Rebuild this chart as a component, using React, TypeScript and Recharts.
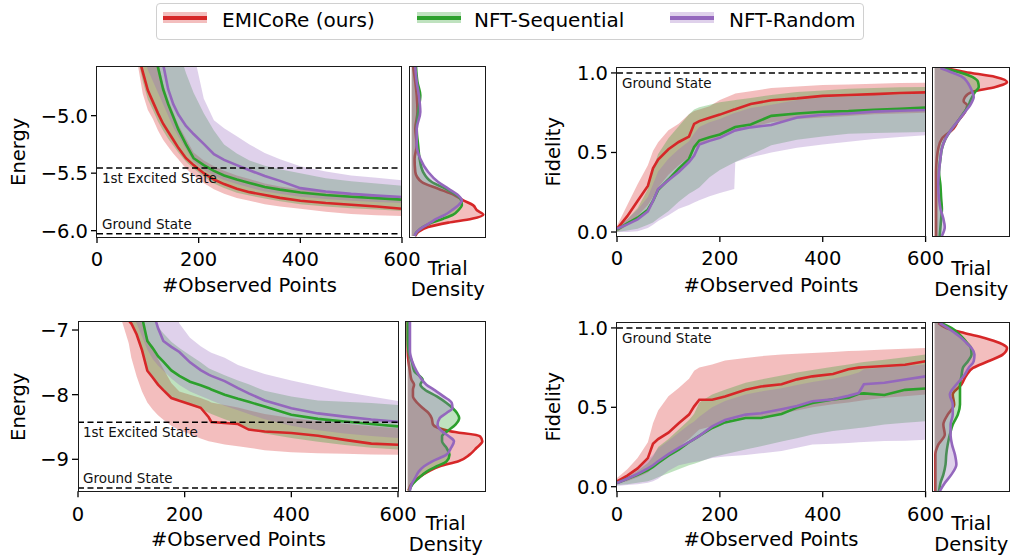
import React from 'react';
import { ComposedChart, Area, Line, XAxis, YAxis, ReferenceLine } from 'recharts';

const RED = '#d62728';
const GREEN = '#2ca02c';
const PURPLE = '#9467bd';
const FONT = '"DejaVu Sans", sans-serif';

const SERIES_NAMES = ['EMICoRe (ours)', 'NFT-Sequential', 'NFT-Random'];
const X_TICKS = [0, 200, 400, 600];
const E1_TICKS = [-6, -5.5, -5];
const E2_TICKS = [-9, -8, -7];
const F_TICKS = [0, 0.5, 1];

// ---------- Panel 1 (Energy, top-left) ----------
const P1_X = [0, 40, 80, 90, 100, 110, 120, 130, 140, 150, 160, 175, 190, 210, 230, 250, 275, 300, 330, 360, 400, 450, 500, 550, 600];
const P1_RED_MEAN = [-3.6, -4.0, -4.45, -4.62, -4.78, -4.88, -4.98, -5.07, -5.14, -5.21, -5.28, -5.37, -5.43, -5.5, -5.555, -5.595, -5.635, -5.665, -5.69, -5.715, -5.74, -5.76, -5.775, -5.79, -5.81];
const P1_RED_LO = [-3.8, -4.2, -4.55, -4.81, -4.95, -5.03, -5.13, -5.21, -5.27, -5.33, -5.38, -5.46, -5.52, -5.585, -5.64, -5.68, -5.715, -5.74, -5.77, -5.79, -5.81, -5.835, -5.855, -5.865, -5.872];
const P1_RED_HI = [-3.2, -3.6, -4.0, -4.1, -4.2, -4.35, -4.52, -4.72, -4.86, -4.97, -5.08, -5.2, -5.32, -5.39, -5.44, -5.48, -5.52, -5.55, -5.59, -5.615, -5.64, -5.66, -5.675, -5.69, -5.7];
const P1_GREEN_MEAN = [-3.3, -3.7, -4.1, -4.2, -4.3, -4.42, -4.58, -4.77, -4.9, -5.01, -5.12, -5.25, -5.37, -5.43, -5.48, -5.52, -5.555, -5.585, -5.62, -5.643, -5.668, -5.69, -5.705, -5.717, -5.73];
const P1_GREEN_LO = [-3.7, -4.1, -4.5, -4.7, -4.86, -4.95, -5.05, -5.13, -5.2, -5.26, -5.32, -5.4, -5.46, -5.53, -5.59, -5.63, -5.67, -5.695, -5.72, -5.745, -5.77, -5.79, -5.805, -5.815, -5.83];
const P1_GREEN_HI = [-2.5, -3.0, -3.4, -3.5, -3.6, -3.7, -3.82, -3.95, -4.1, -4.25, -4.42, -4.63, -4.8, -4.98, -5.13, -5.25, -5.33, -5.39, -5.435, -5.465, -5.5, -5.545, -5.57, -5.59, -5.61];
const P1_PURPLE_MEAN = [-3.2, -3.6, -4.0, -4.1, -4.2, -4.3, -4.42, -4.55, -4.77, -4.9, -4.99, -5.09, -5.16, -5.245, -5.335, -5.385, -5.43, -5.475, -5.525, -5.567, -5.63, -5.66, -5.68, -5.695, -5.707];
const P1_PURPLE_LO = [-3.5, -3.9, -4.3, -4.45, -4.6, -4.7, -4.8, -4.9, -5.0, -5.1, -5.18, -5.29, -5.4, -5.47, -5.52, -5.56, -5.595, -5.625, -5.66, -5.68, -5.705, -5.725, -5.74, -5.75, -5.76];
const P1_PURPLE_HI = [-2.0, -2.5, -3.0, -3.1, -3.2, -3.3, -3.45, -3.6, -3.75, -3.9, -4.05, -4.25, -4.45, -4.85, -5.04, -5.11, -5.18, -5.25, -5.325, -5.38, -5.44, -5.485, -5.52, -5.54, -5.562];
const P1_GROUND = -6.026;
const P1_EXCITED = -5.455;

const D1_Y = [-4.577, -4.707, -4.823, -4.968, -5.113, -5.258, -5.374, -5.49, -5.577, -5.635, -5.693, -5.736, -5.78, -5.823, -5.861, -5.896, -5.93, -5.968, -6.012, -6.046];
const D1_RED = [0.02, 0.05, 0.07, 0.08, 0.05, 0.07, 0.04, 0.05, 0.14, 0.37, 0.6, 0.72, 0.86, 0.91, 1.0, 0.84, 0.51, 0.23, 0.09, 0.05];
const D1_GREEN = [0.06, 0.08, 0.12, 0.09, 0.07, 0.09, 0.11, 0.16, 0.28, 0.47, 0.63, 0.69, 0.7, 0.65, 0.58, 0.44, 0.28, 0.16, 0.07, 0.04];
const D1_PURPLE = [0.05, 0.07, 0.1, 0.12, 0.07, 0.07, 0.12, 0.23, 0.37, 0.51, 0.65, 0.7, 0.65, 0.56, 0.47, 0.35, 0.26, 0.16, 0.07, 0.04];

// ---------- Panel 2 (Fidelity, top-right) ----------
const P2_X = [0, 20, 40, 60, 70, 80, 100, 120, 140, 150, 160, 180, 200, 228, 230, 260, 300, 350, 400, 450, 500, 550, 600];
const P2_RED_MEAN = [0.02, 0.1, 0.195, 0.29, 0.4, 0.455, 0.52, 0.566, 0.6, 0.68, 0.697, 0.718, 0.738, 0.77, 0.772, 0.805, 0.828, 0.84, 0.856, 0.861, 0.867, 0.874, 0.878];
const P2_RED_HI = [0.04, 0.17, 0.3, 0.42, 0.51, 0.565, 0.64, 0.681, 0.74, 0.76, 0.77, 0.79, 0.83, 0.868, 0.87, 0.885, 0.905, 0.915, 0.924, 0.928, 0.932, 0.936, 0.939];
const P2_RED_LO = [0.0, 0.04, 0.1, 0.17, 0.22, 0.28, 0.36, 0.42, 0.47, 0.52, 0.55, 0.58, 0.6, 0.628, 0.63, 0.66, 0.69, 0.71, 0.72, 0.73, 0.74, 0.745, 0.75];
const P2_GREEN_MEAN = [0.015, 0.055, 0.09, 0.14, 0.195, 0.265, 0.33, 0.398, 0.46, 0.535, 0.575, 0.595, 0.613, 0.657, 0.66, 0.676, 0.73, 0.745, 0.756, 0.76, 0.768, 0.774, 0.782];
const P2_GREEN_HI = [0.02, 0.08, 0.15, 0.27, 0.4, 0.49, 0.59, 0.665, 0.74, 0.77, 0.785, 0.8, 0.815, 0.829, 0.83, 0.842, 0.862, 0.88, 0.89, 0.9, 0.905, 0.91, 0.912];
const P2_GREEN_LO = [0.0, 0.01, 0.02, 0.045, 0.06, 0.085, 0.13, 0.19, 0.24, 0.26, 0.28, 0.345, 0.39, 0.437, 0.44, 0.485, 0.545, 0.58, 0.6, 0.618, 0.622, 0.626, 0.629];
const P2_PURPLE_MEAN = [0.021, 0.048, 0.08, 0.13, 0.195, 0.27, 0.325, 0.377, 0.44, 0.48, 0.55, 0.573, 0.592, 0.636, 0.639, 0.658, 0.673, 0.72, 0.737, 0.745, 0.757, 0.762, 0.767];
const P2_PURPLE_HI = [0.03, 0.08, 0.14, 0.22, 0.3, 0.38, 0.46, 0.52, 0.57, 0.62, 0.66, 0.69, 0.71, 0.748, 0.75, 0.78, 0.8, 0.83, 0.845, 0.852, 0.86, 0.865, 0.87];
const P2_PURPLE_LO = [0.0, 0.0, 0.005, 0.025, 0.045, 0.07, 0.105, 0.147, 0.17, 0.185, 0.2, 0.225, 0.245, 0.27, 0.44, 0.47, 0.5, 0.53, 0.55, 0.567, 0.585, 0.597, 0.608];

const D2_Y = [1.031, 1.006, 0.975, 0.943, 0.912, 0.881, 0.849, 0.822, 0.797, 0.755, 0.702, 0.65, 0.587, 0.524, 0.461, 0.377, 0.294, 0.21, 0.147, 0.084, 0.031, -0.025];
const D2_RED = [0.15, 0.42, 0.84, 1.0, 0.84, 0.52, 0.42, 0.4, 0.45, 0.42, 0.33, 0.26, 0.1, 0.05, 0.03, 0.02, 0.02, 0.02, 0.02, 0.02, 0.02, 0.02];
const D2_GREEN = [0.1, 0.33, 0.52, 0.6, 0.61, 0.56, 0.52, 0.49, 0.47, 0.41, 0.33, 0.24, 0.15, 0.1, 0.08, 0.06, 0.08, 0.09, 0.1, 0.09, 0.08, 0.07];
const D2_PURPLE = [0.08, 0.22, 0.38, 0.45, 0.49, 0.52, 0.54, 0.52, 0.49, 0.42, 0.33, 0.24, 0.15, 0.1, 0.08, 0.06, 0.05, 0.06, 0.08, 0.12, 0.14, 0.1];

// ---------- Panel 3 (Energy, bottom-left) ----------
const P3_X = [0, 40, 80, 95, 100, 110, 120, 130, 140, 150, 160, 175, 190, 210, 230, 245, 250, 275, 300, 320, 350, 400, 450, 500, 550, 600];
const P3_RED_MEAN = [-5.5, -6.0, -6.6, -6.85, -6.9, -7.07, -7.31, -7.63, -7.735, -7.845, -7.93, -8.052, -8.095, -8.148, -8.203, -8.35, -8.423, -8.438, -8.454, -8.54, -8.57, -8.593, -8.635, -8.7, -8.757, -8.775];
const P3_RED_LO = [-5.8, -6.3, -6.8, -7.2, -7.43, -7.72, -7.95, -8.12, -8.23, -8.32, -8.39, -8.48, -8.55, -8.61, -8.68, -8.72, -8.73, -8.77, -8.8, -8.82, -8.86, -8.89, -8.905, -8.915, -8.925, -8.93];
const P3_RED_HI = [-5.2, -5.7, -6.3, -6.5, -6.55, -6.7, -6.9, -7.1, -7.3, -7.45, -7.6, -7.82, -7.95, -8.0, -8.05, -8.1, -8.12, -8.16, -8.2, -8.24, -8.3, -8.36, -8.41, -8.45, -8.49, -8.52];
const P3_GREEN_MEAN = [-5.2, -5.6, -6.1, -6.35, -6.4, -6.55, -6.8, -7.17, -7.28, -7.405, -7.49, -7.625, -7.71, -7.8, -7.855, -7.9, -7.92, -8.0, -8.065, -8.11, -8.185, -8.31, -8.375, -8.415, -8.455, -8.49];
const P3_GREEN_LO = [-5.5, -6.0, -6.6, -6.85, -6.9, -7.07, -7.31, -7.6, -7.72, -7.83, -7.92, -8.04, -8.1, -8.16, -8.22, -8.28, -8.3, -8.38, -8.45, -8.52, -8.6, -8.67, -8.73, -8.78, -8.82, -8.85];
const P3_GREEN_HI = [-4.6, -5.0, -5.5, -5.7, -5.8, -5.95, -6.15, -6.4, -6.75, -6.95, -7.05, -7.18, -7.28, -7.39, -7.5, -7.59, -7.61, -7.7, -7.78, -7.84, -7.94, -8.03, -8.09, -8.11, -8.13, -8.16];
const P3_PURPLE_MEAN = [-5.0, -5.4, -5.9, -6.1, -6.15, -6.25, -6.38, -6.5, -6.7, -6.97, -7.17, -7.26, -7.34, -7.5, -7.62, -7.69, -7.71, -7.79, -7.9, -7.98, -8.09, -8.21, -8.29, -8.34, -8.385, -8.42];
const P3_PURPLE_HI = [-4.0, -4.4, -4.9, -5.1, -5.2, -5.35, -5.5, -5.65, -5.8, -5.95, -6.15, -6.5, -6.9, -7.12, -7.25, -7.33, -7.35, -7.43, -7.54, -7.6, -7.68, -7.78, -7.87, -7.96, -8.03, -8.1];
const P3_PURPLE_LO = [-5.6, -6.0, -6.5, -6.7, -6.75, -6.9, -7.1, -7.3, -7.45, -7.55, -7.63, -7.75, -7.85, -7.95, -8.02, -8.07, -8.09, -8.17, -8.24, -8.3, -8.38, -8.48, -8.55, -8.6, -8.64, -8.67];
const P3_GROUND = -9.443;
const P3_EXCITED = -8.428;

const D3_Y = [-6.876, -7.124, -7.33, -7.485, -7.639, -7.768, -7.845, -7.923, -8.026, -8.129, -8.206, -8.284, -8.361, -8.464, -8.567, -8.644, -8.722, -8.825, -8.928, -9.031, -9.108, -9.186, -9.289, -9.392, -9.485];
const D3_RED = [0.0, 0.0, 0.0, 0.01, 0.03, 0.05, 0.085, 0.07, 0.07, 0.13, 0.2, 0.28, 0.32, 0.34, 0.57, 0.97, 1.0, 0.92, 0.83, 0.68, 0.43, 0.28, 0.14, 0.045, 0.01];
const D3_GREEN = [0.0, 0.0, 0.01, 0.055, 0.09, 0.2, 0.17, 0.23, 0.39, 0.52, 0.6, 0.66, 0.69, 0.64, 0.53, 0.46, 0.46, 0.52, 0.56, 0.52, 0.39, 0.26, 0.15, 0.06, 0.02];
const D3_PURPLE = [0.03, 0.03, 0.03, 0.06, 0.12, 0.19, 0.25, 0.35, 0.48, 0.59, 0.6, 0.52, 0.43, 0.4, 0.46, 0.55, 0.62, 0.58, 0.52, 0.33, 0.22, 0.15, 0.1, 0.05, 0.03];

// ---------- Panel 4 (Fidelity, bottom-right) ----------
const P4_X = [0, 20, 40, 60, 70, 80, 100, 120, 140, 150, 160, 185, 210, 250, 280, 320, 350, 380, 420, 450, 470, 480, 520, 560, 600];
const P4_RED_MEAN = [0.034, 0.07, 0.115, 0.18, 0.27, 0.3, 0.34, 0.4, 0.454, 0.506, 0.548, 0.548, 0.568, 0.611, 0.631, 0.645, 0.676, 0.695, 0.71, 0.74, 0.75, 0.752, 0.76, 0.768, 0.79];
const P4_RED_HI = [0.055, 0.11, 0.18, 0.28, 0.4, 0.48, 0.57, 0.622, 0.68, 0.73, 0.75, 0.769, 0.795, 0.811, 0.822, 0.833, 0.838, 0.842, 0.849, 0.854, 0.857, 0.858, 0.864, 0.869, 0.874];
const P4_RED_LO = [0.02, 0.035, 0.06, 0.09, 0.12, 0.15, 0.2, 0.25, 0.3, 0.33, 0.36, 0.38, 0.4, 0.43, 0.44, 0.46, 0.48, 0.5, 0.52, 0.53, 0.54, 0.545, 0.56, 0.57, 0.58];
const P4_GREEN_MEAN = [0.023, 0.05, 0.075, 0.105, 0.125, 0.15, 0.195, 0.233, 0.28, 0.3, 0.32, 0.37, 0.405, 0.433, 0.433, 0.458, 0.498, 0.527, 0.55, 0.56, 0.585, 0.588, 0.578, 0.61, 0.618];
const P4_GREEN_HI = [0.03, 0.06, 0.1, 0.15, 0.19, 0.25, 0.3, 0.36, 0.42, 0.46, 0.53, 0.58, 0.61, 0.655, 0.675, 0.7, 0.72, 0.735, 0.755, 0.77, 0.78, 0.785, 0.8, 0.815, 0.832];
const P4_GREEN_LO = [0.01, 0.015, 0.025, 0.035, 0.045, 0.06, 0.085, 0.11, 0.135, 0.145, 0.155, 0.185, 0.205, 0.235, 0.255, 0.285, 0.305, 0.328, 0.35, 0.362, 0.37, 0.373, 0.392, 0.402, 0.412];
const P4_PURPLE_MEAN = [0.023, 0.05, 0.08, 0.115, 0.135, 0.16, 0.205, 0.244, 0.28, 0.3, 0.32, 0.38, 0.42, 0.454, 0.463, 0.488, 0.508, 0.538, 0.55, 0.572, 0.59, 0.645, 0.655, 0.675, 0.695];
const P4_PURPLE_HI = [0.035, 0.075, 0.12, 0.17, 0.2, 0.24, 0.29, 0.34, 0.39, 0.41, 0.44, 0.5, 0.54, 0.58, 0.6, 0.62, 0.64, 0.66, 0.68, 0.7, 0.72, 0.74, 0.75, 0.76, 0.77];
const P4_PURPLE_LO = [0.005, 0.01, 0.015, 0.025, 0.035, 0.05, 0.1, 0.135, 0.15, 0.155, 0.16, 0.18, 0.19, 0.2, 0.21, 0.225, 0.245, 0.265, 0.27, 0.275, 0.28, 0.282, 0.288, 0.29, 0.296];

const D4_Y = [1.031, 1.0, 0.968, 0.937, 0.905, 0.874, 0.832, 0.79, 0.748, 0.695, 0.643, 0.58, 0.517, 0.454, 0.391, 0.328, 0.265, 0.202, 0.139, 0.076, 0.023, -0.029];
const D4_RED = [0.05, 0.16, 0.41, 0.69, 0.9, 1.0, 0.94, 0.74, 0.53, 0.43, 0.37, 0.25, 0.27, 0.18, 0.12, 0.14, 0.05, 0.01, 0.01, 0.01, 0.01, 0.01];
const D4_GREEN = [0.09, 0.23, 0.32, 0.39, 0.45, 0.5, 0.51, 0.46, 0.39, 0.37, 0.35, 0.35, 0.35, 0.32, 0.25, 0.21, 0.18, 0.16, 0.15, 0.12, 0.08, 0.06];
const D4_PURPLE = [0.07, 0.18, 0.28, 0.37, 0.44, 0.51, 0.55, 0.54, 0.47, 0.4, 0.3, 0.21, 0.25, 0.25, 0.22, 0.22, 0.24, 0.28, 0.3, 0.23, 0.14, 0.07];

// ---------- helpers ----------
function mainRows(xs: number[], rm: number[], rl: number[], rh: number[], gm: number[], gl: number[], gh: number[], pm: number[], pl: number[], ph: number[]) {
  return xs.map((x, i) => ({
    x,
    rm: rm[i], rb: [rl[i], rh[i]],
    gm: gm[i], gb: [gl[i], gh[i]],
    pm: pm[i], pb: [pl[i], ph[i]],
  }));
}
function densRows(ys: number[], r: number[], g: number[], p: number[]) {
  return ys.map((y, i) => ({ y, r: r[i], g: g[i], p: p[i] }));
}

const ROWS1 = mainRows(P1_X, P1_RED_MEAN, P1_RED_LO, P1_RED_HI, P1_GREEN_MEAN, P1_GREEN_LO, P1_GREEN_HI, P1_PURPLE_MEAN, P1_PURPLE_LO, P1_PURPLE_HI);
const ROWS2 = mainRows(P2_X, P2_RED_MEAN, P2_RED_LO, P2_RED_HI, P2_GREEN_MEAN, P2_GREEN_LO, P2_GREEN_HI, P2_PURPLE_MEAN, P2_PURPLE_LO, P2_PURPLE_HI);
const ROWS3 = mainRows(P3_X, P3_RED_MEAN, P3_RED_LO, P3_RED_HI, P3_GREEN_MEAN, P3_GREEN_LO, P3_GREEN_HI, P3_PURPLE_MEAN, P3_PURPLE_LO, P3_PURPLE_HI);
const ROWS4 = mainRows(P4_X, P4_RED_MEAN, P4_RED_LO, P4_RED_HI, P4_GREEN_MEAN, P4_GREEN_LO, P4_GREEN_HI, P4_PURPLE_MEAN, P4_PURPLE_LO, P4_PURPLE_HI);
const DROWS1 = densRows(D1_Y, D1_RED, D1_GREEN, D1_PURPLE);
const DROWS2 = densRows(D2_Y, D2_RED, D2_GREEN, D2_PURPLE);
const DROWS3 = densRows(D3_Y, D3_RED, D3_GREEN, D3_PURPLE);
const DROWS4 = densRows(D4_Y, D4_RED, D4_GREEN, D4_PURPLE);

const minus = (s: string) => s.replace('-', '\u2212');
const fmt1 = (v: number) => minus(v.toFixed(1));
const fmt0 = (v: number) => minus(v.toFixed(0));

type Box = { l: number; t: number; w: number; h: number };
type RefDef = { y: number; text: string; pos: 'insideTopLeft' | 'insideBottomLeft' };

const TICK_FONT = 19.5;
const BAND_OP = 0.3;

function MainPanel(props: { box: Box; rows: any[]; yDomain: [number, number]; yTicks: number[]; fmt: (v: number) => string; refs: RefDef[] }) {
  const { box, rows, yDomain, yTicks, fmt, refs } = props;
  const YW = 70, XH = 60, MT = 10, MR = 30;
  return (
    <div style={{ position: 'absolute', left: box.l - YW, top: box.t - MT }}>
      <ComposedChart width={box.w + YW + MR} height={box.h + MT + XH} data={rows} margin={{ top: MT, right: MR, bottom: 0, left: 0 }}>
        <XAxis type="number" dataKey="x" domain={[0, 600]} ticks={X_TICKS} interval={0} allowDataOverflow height={XH}
          axisLine={false} tickSize={6} tickMargin={9.5}
          tickLine={{ stroke: '#000', strokeWidth: 1.3 }}
          tick={{ fill: '#000', fontSize: TICK_FONT }} />
        <YAxis type="number" domain={yDomain} ticks={yTicks} interval={0} allowDataOverflow width={YW}
          axisLine={false} tickSize={6} tickMargin={3} tickFormatter={fmt}
          tickLine={{ stroke: '#000', strokeWidth: 1.3 }}
          tick={{ fill: '#000', fontSize: TICK_FONT }} />
        <Area dataKey="rb" type="linear" stroke="none" fill={RED} fillOpacity={BAND_OP} isAnimationActive={false} />
        <Area dataKey="gb" type="linear" stroke="none" fill={GREEN} fillOpacity={BAND_OP} isAnimationActive={false} />
        <Area dataKey="pb" type="linear" stroke="none" fill={PURPLE} fillOpacity={BAND_OP} isAnimationActive={false} />
        <Line dataKey="rm" type="linear" stroke={RED} strokeWidth={2.6} dot={false} isAnimationActive={false} />
        <Line dataKey="gm" type="linear" stroke={GREEN} strokeWidth={2.6} dot={false} isAnimationActive={false} />
        <Line dataKey="pm" type="linear" stroke={PURPLE} strokeWidth={2.6} dot={false} isAnimationActive={false} />
        {refs.map((r, i) => (
          <ReferenceLine key={i} y={r.y} stroke="#000" strokeWidth={1.5} strokeDasharray="6 3.5"
            label={{ value: r.text, position: r.pos, offset: 5, fontSize: 13.5, fill: '#111' }} />
        ))}
      </ComposedChart>
    </div>
  );
}

function DensityPanel(props: { box: Box; rows: any[]; yDomain: [number, number]; xDomain: [number, number] }) {
  const { box, rows, yDomain, xDomain } = props;
  return (
    <div style={{ position: 'absolute', left: box.l, top: box.t }}>
      <ComposedChart layout="vertical" width={box.w} height={box.h} data={rows} margin={{ top: 0, right: 0, bottom: 0, left: 0 }}>
        <XAxis type="number" domain={xDomain} hide allowDataOverflow />
        <YAxis type="number" dataKey="y" domain={yDomain} hide allowDataOverflow reversed />
        <Area dataKey="r" type="monotone" baseValue={0} stroke={RED} strokeWidth={2.6} fill={RED} fillOpacity={BAND_OP} isAnimationActive={false} />
        <Area dataKey="g" type="monotone" baseValue={0} stroke={GREEN} strokeWidth={2.6} fill={GREEN} fillOpacity={BAND_OP} isAnimationActive={false} />
        <Area dataKey="p" type="monotone" baseValue={0} stroke={PURPLE} strokeWidth={2.6} fill={PURPLE} fillOpacity={BAND_OP} isAnimationActive={false} />
      </ComposedChart>
    </div>
  );
}

function Frame({ box }: { box: Box }) {
  return (
    <div style={{ position: 'absolute', left: box.l - 0.75, top: box.t - 0.75, width: box.w + 1.5, height: box.h + 1.5, boxSizing: 'border-box', border: '1.5px solid #1a1a1a', pointerEvents: 'none' }} />
  );
}

function HText({ text, cx, cy, size = TICK_FONT }: { text: string; cx: number; cy: number; size?: number }) {
  return (
    <div style={{ position: 'absolute', left: cx - 150, top: cy - size * 0.48, width: 300, height: size, lineHeight: `${size}px`, fontSize: size, textAlign: 'center', whiteSpace: 'nowrap', color: '#000' }}>{text}</div>
  );
}
function VText({ text, cx, cy }: { text: string; cx: number; cy: number }) {
  const size = TICK_FONT;
  return (
    <div style={{ position: 'absolute', left: cx - 100, top: cy - size / 2, width: 200, height: size, lineHeight: `${size}px`, fontSize: size, textAlign: 'center', whiteSpace: 'nowrap', transform: 'rotate(-90deg)', transformOrigin: '50% 50%', color: '#000' }}>{text}</div>
  );
}

const B1: Box = { l: 96.7, t: 67, w: 305, h: 170 };
const B2: Box = { l: 616.7, t: 68, w: 308.6, h: 168 };
const B3: Box = { l: 78.3, t: 322, w: 320, h: 169.3 };
const B4: Box = { l: 616.7, t: 323, w: 308.6, h: 168.3 };
const DB1: Box = { l: 410, t: 67, w: 75.7, h: 170 };
const DB2: Box = { l: 933, t: 68, w: 76.7, h: 168 };
const DB3: Box = { l: 406, t: 322, w: 79.7, h: 169.3 };
const DB4: Box = { l: 933, t: 323, w: 76.7, h: 168.3 };

const Y1: [number, number] = [-6.055, -4.577];
const Y2: [number, number] = [-0.025, 1.031];
const Y3: [number, number] = [-9.495, -6.876];
const Y4: [number, number] = [-0.029, 1.031];

function LegendItem({ color, x, tx, label }: { color: string; x: number; tx: number; label: string }) {
  return (
    <>
      <svg style={{ position: 'absolute', left: x, top: 12 }} width={44} height={11}>
        <rect x={0} y={0} width={44} height={11} fill={color} fillOpacity={0.3} />
        <line x1={0} x2={44} y1={6} y2={6} stroke={color} strokeWidth={4} />
      </svg>
      <div style={{ position: 'absolute', left: tx, top: 9.6, height: 20, lineHeight: '20px', fontSize: 20, whiteSpace: 'nowrap', color: '#000' }}>{label}</div>
    </>
  );
}

export default function App() {
  return (
    <div style={{ position: 'absolute', left: 0, top: 0, width: 1013, height: 556, background: '#fff', fontFamily: FONT, overflow: 'hidden' }}>
      {/* legend */}
      <div style={{ position: 'absolute', left: 155.5, top: 2.5, width: 708.5, height: 37, boxSizing: 'border-box', border: '1.3px solid #d0d0d0', borderRadius: 4 }} />
      <LegendItem color={RED} x={163} tx={222} label={SERIES_NAMES[0]} />
      <LegendItem color={GREEN} x={417} tx={474} label={SERIES_NAMES[1]} />
      <LegendItem color={PURPLE} x={670} tx={729} label={SERIES_NAMES[2]} />

      <MainPanel box={B1} rows={ROWS1} yDomain={Y1} yTicks={E1_TICKS} fmt={fmt1}
        refs={[{ y: P1_GROUND, text: 'Ground State', pos: 'insideBottomLeft' }, { y: P1_EXCITED, text: '1st Excited State', pos: 'insideTopLeft' }]} />
      <DensityPanel box={DB1} rows={DROWS1} yDomain={Y1} xDomain={[-0.024, 1.033]} />
      <MainPanel box={B2} rows={ROWS2} yDomain={Y2} yTicks={F_TICKS} fmt={fmt1}
        refs={[{ y: 1.0, text: 'Ground State', pos: 'insideTopLeft' }]} />
      <DensityPanel box={DB2} rows={DROWS2} yDomain={Y2} xDomain={[-0.023, 1.037]} />
      <MainPanel box={B3} rows={ROWS3} yDomain={Y3} yTicks={E2_TICKS} fmt={fmt0}
        refs={[{ y: P3_GROUND, text: 'Ground State', pos: 'insideBottomLeft' }, { y: P3_EXCITED, text: '1st Excited State', pos: 'insideTopLeft' }]} />
      <DensityPanel box={DB3} rows={DROWS3} yDomain={Y3} xDomain={[-0.023, 1.045]} />
      <MainPanel box={B4} rows={ROWS4} yDomain={Y4} yTicks={F_TICKS} fmt={fmt1}
        refs={[{ y: 1.0, text: 'Ground State', pos: 'insideTopLeft' }]} />
      <DensityPanel box={DB4} rows={DROWS4} yDomain={Y4} xDomain={[-0.023, 1.037]} />

      <Frame box={B1} /><Frame box={DB1} />
      <Frame box={B2} /><Frame box={DB2} />
      <Frame box={B3} /><Frame box={DB3} />
      <Frame box={B4} /><Frame box={DB4} />

      <VText text="Energy" cx={18.5} cy={152} />
      <VText text="Fidelity" cx={553.5} cy={152} />
      <VText text="Energy" cx={18.5} cy={406.7} />
      <VText text="Fidelity" cx={553.5} cy={407} />

      <HText text="#Observed Points" cx={249.5} cy={285} />
      <HText text="#Observed Points" cx={771} cy={285} />
      <HText text="#Observed Points" cx={238.5} cy={539} />
      <HText text="#Observed Points" cx={771} cy={539} />

      <HText text="Trial" cx={447.8} cy={268.5} />
      <HText text="Density" cx={447.8} cy={289.5} />
      <HText text="Trial" cx={971.3} cy={268.5} />
      <HText text="Density" cx={971.3} cy={289.5} />
      <HText text="Trial" cx={445.8} cy={523} />
      <HText text="Density" cx={445.8} cy={544.5} />
      <HText text="Trial" cx={971.3} cy={523} />
      <HText text="Density" cx={971.3} cy={544.5} />
    </div>
  );
}
